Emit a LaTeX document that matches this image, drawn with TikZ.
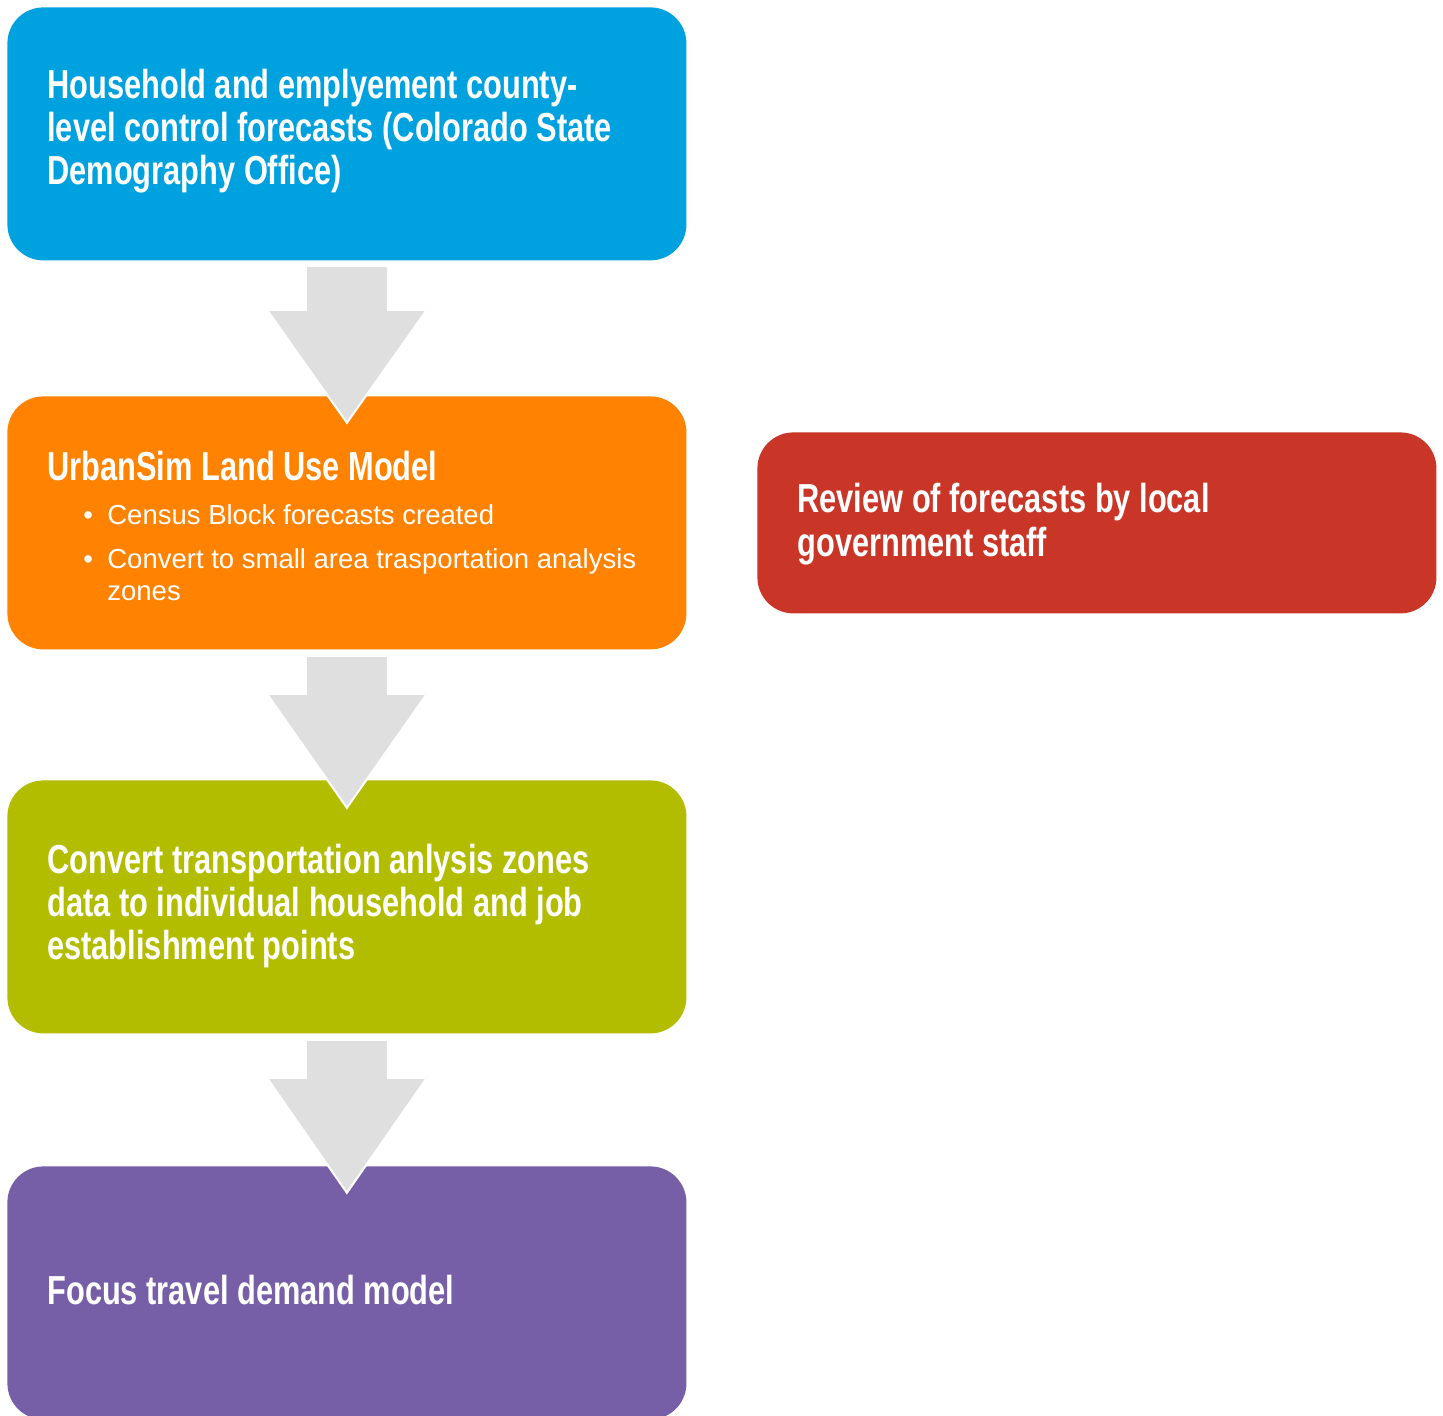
\documentclass[tikz,border=0pt]{standalone}
\usepackage{fontspec}
\usetikzlibrary{calc}
\newfontfamily\titlefont{Liberation Sans}[FakeStretch=0.76]
\newfontfamily\bodyfont{Liberation Sans}
\definecolor{cblue}{HTML}{00A1DF}
\definecolor{corange}{HTML}{FF8300}
\definecolor{colive}{HTML}{B3BD00}
\definecolor{cpurple}{HTML}{775FA8}
\definecolor{cred}{HTML}{C93628}
\definecolor{cgray}{HTML}{E0DFE0}
\tikzset{
  box/.style={rectangle, rounded corners=18pt, draw=none, inner sep=0pt,
    minimum width=339.5pt, anchor=north west},
  ttl/.style={anchor=base west, inner sep=0pt, text=white,
    font=\titlefont\bfseries\fontsize{20.25}{21.5}\selectfont},
  bul/.style={anchor=base west, inner sep=0pt, text=white,
    font=\bodyfont\fontsize{13.75}{16}\selectfont},
  blockarrow/.style={fill=cgray, draw=white, line width=1pt, line join=miter}
}
\begin{document}
\begin{tikzpicture}[x=0.5pt,y=-0.5pt]
\clip (0,0) rectangle (1443,1416);
\fill[white] (0,0) rectangle (1443,1416);
% boxes
\node[box, fill=cblue, minimum height=126.5pt] (b1) at (7,7) {};
\node[box, fill=corange, minimum height=126.5pt] (b2) at (7,396) {};
\node[box, fill=colive, minimum height=126.5pt] (b3) at (7,780) {};
\node[box, fill=cpurple, minimum height=126.5pt] (b4) at (7,1166) {};
\node[box, fill=cred, minimum height=90.5pt] (b5) at (757,432) {};
% texts
\node[ttl] (t1) at (47,99) {\parbox[t]{320pt}{Household and emplyement county-\\level control forecasts (Colorado State\\Demography Office)}};
\node[ttl] (t2) at (47,481) {UrbanSim Land Use Model};
\node[bul] (t2b) at (83,524) {\parbox[t]{300pt}{\makebox[12pt][l]{•}Census Block forecasts created\\[6pt]\makebox[12pt][l]{•}Convert to small area trasportation analysis\\\hspace*{12pt}zones}};
\node[ttl] (t3) at (47,873) {\parbox[t]{320pt}{Convert transportation anlysis zones\\data to individual household and job\\establishment points}};
\node[ttl] (t4) at (47,1304) {Focus travel demand model};
\node[ttl] (t5) at (797,513) {\parbox[t]{320pt}{Review of forecasts by local\\government staff}};
% block arrows
\draw[blockarrow] ($(b1.south)+(-41,5)$) -- ($(b1.south)+(41,5)$) -- ($(b1.south)+(41,49)$) -- ($(b1.south)+(80,49)$) -- ($(b1.south)+(0,162)$) -- ($(b1.south)+(-80,49)$) -- ($(b1.south)+(-41,49)$) -- cycle;
\draw[blockarrow] ($(b2.south)+(-41,6)$) -- ($(b2.south)+(41,6)$) -- ($(b2.south)+(41,44)$) -- ($(b2.south)+(80,44)$) -- ($(b2.south)+(0,158)$) -- ($(b2.south)+(-80,44)$) -- ($(b2.south)+(-41,44)$) -- cycle;
\draw[blockarrow] ($(b3.south)+(-41,6)$) -- ($(b3.south)+(41,6)$) -- ($(b3.south)+(41,44)$) -- ($(b3.south)+(80,44)$) -- ($(b3.south)+(0,159)$) -- ($(b3.south)+(-80,44)$) -- ($(b3.south)+(-41,44)$) -- cycle;
\end{tikzpicture}
\end{document}
